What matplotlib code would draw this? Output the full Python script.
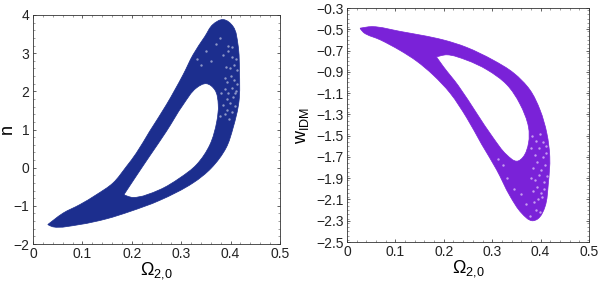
import math
import matplotlib
matplotlib.use("Agg")
import matplotlib.pyplot as plt
from matplotlib.path import Path
from matplotlib.patches import PathPatch
from matplotlib.ticker import MultipleLocator

plt.rcParams['font.family'] = ['Liberation Sans', 'DejaVu Sans']
plt.rcParams['mathtext.fontset'] = 'custom'
plt.rcParams['mathtext.rm'] = 'Liberation Sans'

n_outer_x = [.030,.040,.0945,.149,.196,.256,.324,.361,.391,.405,.417,.418,.415,.405,.385,.364,.348,.324,.304,.270,.236,.209,.189,.162,.128,.0945,.061]
n_outer_y = [-1.49,-1.55,-1.49,-1.34,-1.15,-.86,-.40,-.01,.52,1.04,1.74,2.52,3.22,3.70,3.88,3.75,3.44,2.96,2.44,1.65,.95,.38,.03,-.40,-.71,-.97,-1.19]
n_hole_x = [.184,.202,.256,.297,.331,.358,.372,.375,.368,.351,.331,.304,.270,.236,.209]
n_hole_y = [-.71,-.78,-.58,-.27,.08,.60,1.21,1.65,2.04,2.20,2.09,1.65,.95,.30,-.22]
n_gap_x = [.378,.388,.396,.402,.408,.385,.392,.398,.405,.380,.388,.395,.402,.410,.389,.393,.400,.407,.412,.390,.398,.406,.412,.384,.394,.402,.410,.350,.360,.340,.332,.370,.378,.395,.403,.392,.408]
n_gap_y = [1.35,1.40,1.28,1.45,1.62,1.65,1.80,1.70,1.85,1.95,2.05,1.95,2.10,2.00,2.35,2.25,2.40,2.30,2.20,2.65,2.60,2.70,2.55,2.95,3.05,2.90,2.85,3.05,2.80,2.70,2.85,3.25,3.40,3.20,3.15,1.52,1.95]

w_outer_x = [.027,.052,.110,.199,.247,.302,.344,.378,.399,.413,.419,.416,.409,.395,.382,.361,.337,.309,.278,.247,.213,.178,.144,.110,.069,.034]
w_outer_y = [-.49,-.475,-.52,-.60,-.67,-.79,-.91,-1.07,-1.26,-1.48,-1.70,-1.95,-2.17,-2.28,-2.30,-2.23,-2.07,-1.82,-1.58,-1.33,-1.10,-.93,-.80,-.70,-.60,-.53]
w_hole_x = [.185,.206,.247,.289,.330,.357,.375,.375,.364,.351,.330,.302,.268,.230,.199]
w_hole_y = [-.76,-.74,-.79,-.88,-1.02,-1.20,-1.42,-1.57,-1.70,-1.74,-1.68,-1.52,-1.29,-1.03,-.85]
w_gap_x = [.382,.390,.398,.405,.380,.388,.396,.404,.411,.385,.393,.401,.409,.380,.389,.397,.406,.384,.392,.400,.407,.386,.395,.403,.390,.398,.330,.322,.345,.360,.312,.378,.370,.412,.414]
w_gap_y = [-1.50,-1.55,-1.48,-1.56,-1.62,-1.68,-1.62,-1.70,-1.66,-1.80,-1.75,-1.82,-1.78,-1.90,-1.92,-1.87,-1.94,-2.02,-1.98,-2.04,-2.00,-2.12,-2.10,-2.08,-2.20,-2.22,-1.90,-1.78,-2.00,-2.05,-1.72,-2.26,-2.14,-1.60,-1.88]

x_ticks = [0, 0.1, 0.2, 0.3, 0.4, 0.5]
x_labels = ['0', '0.1', '0.2', '0.3', '0.4', '0.5']
n_ticks = [-2, -1, 0, 1, 2, 3, 4]
w_ticks = [-2.5, -2.3, -2.1, -1.9, -1.7, -1.5, -1.3, -1.1, -0.9, -0.7, -0.5, -0.3]

BLUE = '#1c2e8e'
PURPLE = '#7a22d8'
EDGE = '#333333'


def ring(xs, ys, xspan, yspan):
    """Closed curve through the read outline points; the first point is a sharp tip."""
    n = len(xs)
    px = [x / xspan for x in xs]
    py = [y / yspan for y in ys]
    tangents = []
    for i in range(n):
        ax_, ay_ = px[i] - px[i - 1], py[i] - py[i - 1]
        bx_, by_ = px[(i + 1) % n] - px[i], py[(i + 1) % n] - py[i]
        la, lb = math.hypot(ax_, ay_), math.hypot(bx_, by_)
        tx, ty = ax_ / la + bx_ / lb, ay_ / la + by_ / lb
        lt = math.hypot(tx, ty) or 1
        tangents.append((tx / lt, ty / lt))
    verts = [(xs[0], ys[0])]
    codes = [Path.MOVETO]
    for i in range(n):
        j = (i + 1) % n
        d = math.hypot(px[j] - px[i], py[j] - py[i]) / 3
        d0 = 0 if i == 0 else d
        d1 = 0 if j == 0 else d
        verts += [(xs[i] + tangents[i][0] * d0 * xspan, ys[i] + tangents[i][1] * d0 * yspan),
                  (xs[j] - tangents[j][0] * d1 * xspan, ys[j] - tangents[j][1] * d1 * yspan),
                  (xs[j], ys[j])]
        codes += [Path.CURVE4] * 3
    return verts, codes


def band(ax, ox, oy, hx, hy, gx, gy, color, light, yspan):
    v1, c1 = ring(ox, oy, 0.5, yspan)
    v2, c2 = ring(hx[:1] + hx[:0:-1], hy[:1] + hy[:0:-1], 0.5, yspan)
    ax.add_patch(PathPatch(Path(v1 + v2, c1 + c2), facecolor=color, edgecolor=color,
                           lw=0.5, joinstyle='round', zorder=2))
    ax.scatter(gx, gy, s=3, color=light, linewidths=0, zorder=3)


def style(ax, ylim, yticks, ylabel, decimal, yminor, ylabel_xy):
    ax.set_xlim(0, 0.5)
    ax.set_ylim(*ylim)
    ax.set_xticks(x_ticks)
    ax.set_xticklabels(x_labels)
    ax.set_yticks(yticks)
    if decimal:
        ax.set_yticklabels([f'\u2212{abs(v):.1f}' for v in yticks])
    ax.xaxis.set_minor_locator(MultipleLocator(0.02))
    ax.yaxis.set_minor_locator(MultipleLocator(yminor))
    ax.tick_params(which='major', direction='in', top=True, right=True, length=2.5,
                   width=0.5, labelsize=10, colors='#222222', pad=2.5)
    ax.tick_params(which='minor', direction='in', top=True, right=True, length=1.2,
                   width=0.4, colors='#555555')
    for s in ax.spines.values():
        s.set_linewidth(0.6)
        s.set_color(EDGE)
    ax.set_xlabel(r'$\Omega_{2{,}0}$', fontsize=13, labelpad=-1)
    ax.set_ylabel(ylabel, fontsize=13, labelpad=0)
    ax.yaxis.set_label_coords(*ylabel_xy)


W, H = 600, 284
fig = plt.figure(figsize=(W / 100, H / 100), dpi=100)
ax1 = fig.add_axes([33 / W, 1 - 244 / H, 247 / W, 229 / H])
ax2 = fig.add_axes([347 / W, 1 - 242 / H, 242 / W, 234 / H])

band(ax1, n_outer_x, n_outer_y, n_hole_x, n_hole_y, n_gap_x, n_gap_y, BLUE, '#8d97c8', 6.0)
band(ax2, w_outer_x, w_outer_y, w_hole_x, w_hole_y, w_gap_x, w_gap_y, PURPLE, '#c59cf0', 2.2)

style(ax1, (-2, 4), n_ticks, 'n', False, 0.2, (-0.07, 0.5))
style(ax2, (-2.5, -0.3), w_ticks, r'$\mathrm{w}_{\mathrm{IDM}}$', True, 0.04, (-0.15, 0.5))

fig.savefig('out.png', dpi=100)
